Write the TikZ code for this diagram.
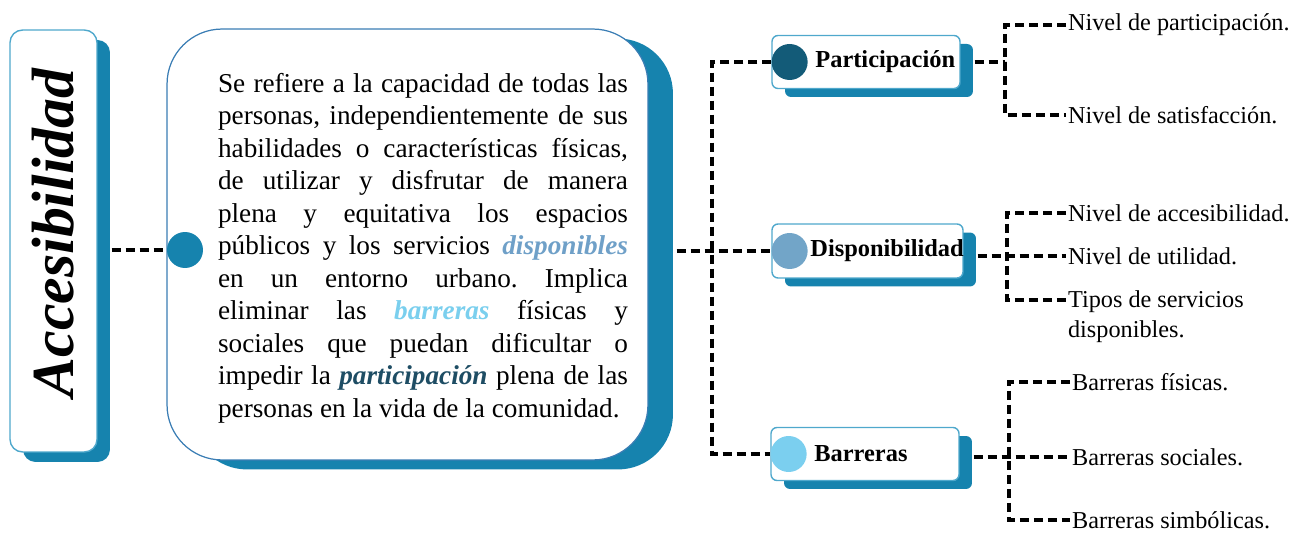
\documentclass[tikz,border=0pt]{standalone}
\usepackage{fontspec}
\setmainfont{Liberation Serif}
\usetikzlibrary{positioning}
\usetikzlibrary{shadows}
\usetikzlibrary{backgrounds}
\definecolor{shadowblue}{HTML}{1683AE}
\definecolor{lineblue}{HTML}{3A7DB4}
\definecolor{edgeblue}{HTML}{4FA8CC}
\definecolor{partcol}{HTML}{135B78}
\definecolor{dispcol}{HTML}{72A5C8}
\definecolor{barrcol}{HTML}{7BCFEF}
\definecolor{parttext}{HTML}{1E4D64}
\definecolor{disptext}{HTML}{6FA0C8}
\definecolor{barrtext}{HTML}{7ACFEE}
\frenchspacing

\begin{document}
\begin{tikzpicture}[x=0.02cm,y=-0.02cm]
        \tikzset{titlebox/.style={draw=edgeblue, fill=white, line width=0.8pt, rounded corners=0.25cm,
                minimum width=1.74cm, minimum height=8.44cm,
                drop shadow={shadow xshift=0.26cm, shadow yshift=-0.2cm, fill=shadowblue, opacity=1}},
        defbox/.style={draw=lineblue, fill=white, line width=0.7pt, rounded corners=1.1cm,
                minimum width=9.62cm, minimum height=8.62cm,
                drop shadow={shadow xshift=0.5cm, shadow yshift=-0.19cm, fill=shadowblue, opacity=1}},
        card/.style={draw=edgeblue, fill=white, line width=0.8pt, rounded corners=0.12cm,
                minimum height=1.06cm,
                drop shadow={shadow xshift=0.26cm, shadow yshift=-0.17cm, fill=shadowblue, opacity=1}},
        dot/.style={circle, minimum size=0.72cm, inner sep=0pt},
        cardtext/.style={inner sep=0pt, font=\fontsize{13.9}{16}\selectfont\bfseries},
        leaf/.style={inner sep=1pt, font=\fontsize{13.8}{17}\selectfont, align=left},
        link/.style={line width=2.2pt, dash pattern=on 0.18cm off 0.1cm},
        }
        \useasboundingbox (0,0) rectangle (1295,533);

%% left title and definition
        \node [titlebox] (title) at (53.5,241) {};
        \node [rotate=90, font=\fontsize{34}{34}\selectfont\bfseries\itshape] (titletext) at (53,233) {Accesibilidad};
        \node [defbox] (def) at (407.5,244.5) {};
        \node [dot, fill=shadowblue] (hub) at (185,250) {};
        \node [text width=8.2cm, align=justify, inner sep=0pt, font=\fontsize{15.5}{18.5}\selectfont] (deftext) at (423,248)
        {Se refiere a la capacidad de todas las\linebreak
        personas, independientemente de sus\linebreak
        habilidades o características físicas,\linebreak
        de utilizar y disfrutar de manera\linebreak
        plena y equitativa los espacios\linebreak
        públicos y los servicios \textcolor{disptext}{\textbf{\textit{disponibles}}}\linebreak
        en un entorno urbano. Implica\linebreak
        eliminar las \textcolor{barrtext}{\textbf{\textit{barreras}}} físicas y\linebreak
        sociales que puedan dificultar o\linebreak
        impedir la \textcolor{parttext}{\textbf{\textit{participación}}} plena de las\linebreak
        personas en la vida de la comunidad.};

%% categories
        \node [card, minimum width=3.76cm] (partbox) at (866,62) {};
        \node [card, minimum width=3.82cm, minimum height=1.08cm] (dispbox) at (867.5,251) {};
        \node [card, minimum width=3.76cm] (barrbox) at (865,454) {};
        \node [dot, fill=partcol, right=0pt of partbox.west] (partdot) {};
        \node [dot, fill=dispcol, right=0pt of dispbox.west] (dispdot) {};
        \node [dot, fill=barrcol, right=0pt of barrbox.west] (barrdot) {};
        \node [cardtext, right=0.14cm of partdot] (parttxt) {Participación};
        \node [cardtext, right=0.04cm of dispdot] (disptxt) {Disponibilidad};
        \node [cardtext, right=0.14cm of barrdot] (barrtxt) {Barreras};

%% leaves
        \node [leaf, anchor=west] (np) at (1066,25) {Nivel de participación.};
        \node [leaf, anchor=west] (ns) at (1066,115) {Nivel de satisfacción.};
        \node [leaf, anchor=west] (na) at (1066,213) {Nivel de accesibilidad.};
        \node [leaf, anchor=west] (nu) at (1066,256) {Nivel de utilidad.};
        \node [leaf, anchor=north west] (nt) at (1066,289) {Tipos de servicios\\disponibles.};
        \node [leaf, anchor=west] (nf) at (1070,382) {Barreras físicas.};
        \node [leaf, anchor=west] (nso) at (1070,457) {Barreras sociales.};
        \node [leaf, anchor=west] (nsi) at (1070,520) {Barreras simbólicas.};

        \coordinate (trunk) at (712,251);
        \coordinate (psplit) at (1005,62);
        \coordinate (dsplit) at (1007,256);
        \coordinate (bsplit) at (1009,457);

%% paths
        \begin{scope}[on background layer]
        \path[draw,link] (title.east |- hub) -- (hub)
                    (def.east |- trunk) -- (dispdot)
                    (partdot) -| (trunk) |- (barrdot)
                    (partbox.east |- psplit) -- (psplit)
                    (np.west) -| (psplit) |- (ns.west)
                    (dispbox.east |- dsplit) -- (nu.west)
                    (na.west) -| (dsplit) |- ([yshift=-0.22cm]nt.north west)
                    (barrbox.east |- bsplit) -- (nso.west)
                    (nf.west) -| (bsplit) |- (nsi.west)
                    ;
        \end{scope}
\end{tikzpicture}
\end{document}
